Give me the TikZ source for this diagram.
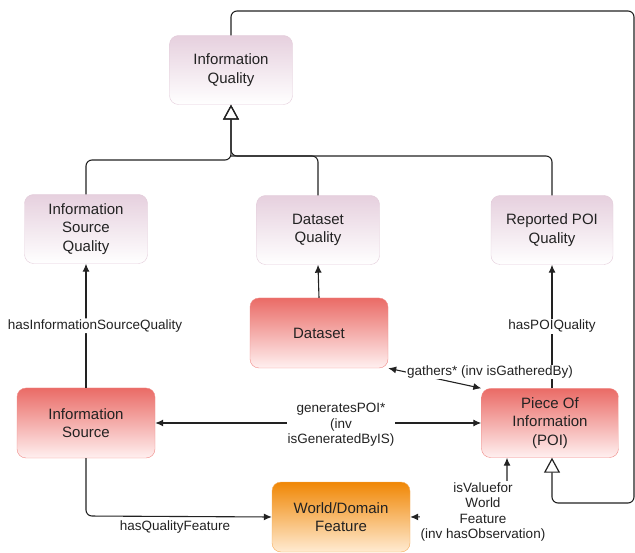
\documentclass[tikz,border=0pt]{standalone}
\usepackage{fontspec}
\setmainfont{Liberation Sans}
\usetikzlibrary{arrows.meta}
\definecolor{lavtop}{HTML}{E6D0DE}
\definecolor{lavline}{HTML}{E3CCDA}
\definecolor{redtop}{HTML}{EA6B66}
\definecolor{redbot}{HTML}{FFF0F0}
\definecolor{redline}{HTML}{F08A86}
\definecolor{orgtop}{HTML}{F08705}
\definecolor{orgbot}{HTML}{FFEBD2}
\definecolor{orgline}{HTML}{F5AC5A}
\definecolor{ink}{HTML}{222222}
\tikzset{
  box/.style={rounded corners=9pt, minimum width=123pt, minimum height=69pt,
    inner sep=0pt, align=center, text=ink,
    font=\fontsize{15}{18.5}\selectfont},
  qualitybox/.style={box, draw=lavline, top color=lavtop, bottom color=white},
  entitybox/.style={box, draw=redline, top color=redtop, bottom color=redbot,
    minimum width=138pt, minimum height=70pt},
  featurebox/.style={box, draw=orgline, top color=orgtop, bottom color=orgbot,
    minimum width=138pt, minimum height=70pt},
  link/.style={draw=ink, line width=1.1pt, rounded corners=6pt},
  rel/.style={link, -{Latex[length=8pt,width=7pt]}},
  birel/.style={link, {Latex[length=8pt,width=7pt]}-{Latex[length=8pt,width=7pt]}},
  isa/.style={link, -{Triangle[open,length=15pt,width=16pt,line width=1.2pt]}},
  lbl/.style={fill=white, inner sep=1pt, align=center, text=ink,
    font=\fontsize{13.5}{15.5}\selectfont},
}
\begin{document}
\begin{tikzpicture}[x=1pt, y=-1pt]
  \useasboundingbox (0,0) rectangle (635,553);

  % classes
  \node[qualitybox] (iq)  at (231,70)  {Information\\Quality};
  \node[qualitybox] (isq) at (86,229)  {Information\\Source\\Quality};
  \node[qualitybox] (dq)  at (318,230) {Dataset\\Quality};
  \node[qualitybox, minimum width=122pt] (rpq) at (552,230) {Reported POI\\Quality};
  \node[entitybox]  (ds)  at (319,333) {Dataset};
  \node[entitybox]  (is)  at (86,423)  {Information\\Source};
  \node[entitybox, minimum width=137pt, minimum height=69pt] (poi) at (550,423) {Piece Of\\Information\\(POI)};
  \node[featurebox] (wdf) at (341,517) {World/Domain\\Feature};

  % bend points of the connectors
  \coordinate (hubL) at (231,160);
  \coordinate (hubR) at (231,156);
  \coordinate (loopA) at (231,11);
  \coordinate (loopB) at (634,11);
  \coordinate (loopC) at (634,503);
  \coordinate (loopD) at (552,503);
  \coordinate (isBend) at (86,516);
  \coordinate (valBend) at (507,516);

  % generalisation to Information Quality
  \draw[isa] (isq.north) |- (hubL) -- (iq.south);
  \draw[isa] (rpq.north) |- (hubR) -- (iq.south);
  \draw[link] (dq.north) |- (hubR);

  % Piece Of Information specialises Information Quality
  \draw[isa] (iq.north) -- (loopA) -- (loopB) -- (loopC) -- (loopD) -- (poi.south -| loopD);

  % quality properties
  \draw[rel] (is.north) -- (isq.south)
    node[lbl, pos=0.5, xshift=9pt] {hasInformationSourceQuality};
  \draw[rel] (ds.north) -- (dq.south);
  \draw[rel] (poi.north -| rpq.south) -- (rpq.south)
    node[lbl, pos=0.5] {hasPOIQuality};

  % gathers
  \draw[birel] (ds.south east) -- (poi.north west);
  \node[lbl] (gl) at (490,372) {gathers* (inv isGatheredBy)};

  % generatesPOI
  \draw[birel] (is.east) -- (poi.west);
  \node[lbl] (gp) at (341,425) {generatesPOI*\\(inv\\isGeneratedByIS)};

  % hasQualityFeature
  \draw[rel] (is.south) -- (isBend) -- (wdf.west);
  \node[lbl, fill=none] (qf) at (175,527) {hasQualityFeature};

  % isValueforWorldFeature
  \draw[birel] (wdf.east) -- (valBend) -- (poi.south -| valBend);
  \node[lbl] (vf) at (483,512) {isValuefor\\World\\Feature\\(inv hasObservation)};
\end{tikzpicture}
\end{document}
